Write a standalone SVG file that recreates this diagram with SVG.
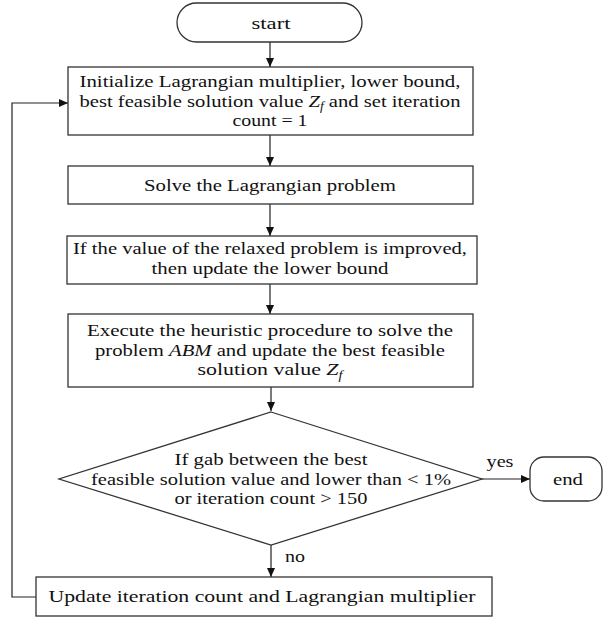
<svg xmlns="http://www.w3.org/2000/svg" width="604" height="618" viewBox="0 0 604 618">
<defs>
<marker id="ah" markerWidth="10" markerHeight="8" refX="9" refY="4" orient="auto" markerUnits="userSpaceOnUse">
<path d="M0,0 L9,4 L0,8 Z" fill="#111"/>
</marker>
<style>
.shape{fill:#fff;stroke:#333;stroke-width:1.3}
.lbl{font-family:"Liberation Serif","Times New Roman",serif;font-size:17.5px;fill:#111;text-anchor:middle}
.it{font-style:italic}
.con{fill:none;stroke:#222;stroke-width:1.2}
</style>
</defs>
<rect width="604" height="618" fill="#fff"/>
<g id="connectors">
<line class="con" x1="270" y1="42" x2="270" y2="67" marker-end="url(#ah)"/>
<line class="con" x1="270" y1="135" x2="270" y2="166" marker-end="url(#ah)"/>
<line class="con" x1="270" y1="204" x2="270" y2="236" marker-end="url(#ah)"/>
<line class="con" x1="270" y1="284" x2="270" y2="314" marker-end="url(#ah)"/>
<line class="con" x1="271" y1="387" x2="271" y2="411" marker-end="url(#ah)"/>
<line class="con" x1="482" y1="479" x2="530" y2="479" marker-end="url(#ah)"/>
<line class="con" x1="271" y1="545" x2="271" y2="577" marker-end="url(#ah)"/>
<polyline class="con" points="36,597 12,597 12,103 68,103" marker-end="url(#ah)"/>
<text class="lbl" x="500" y="467" textLength="27" lengthAdjust="spacingAndGlyphs">yes</text>
<text class="lbl" x="295" y="562" textLength="20" lengthAdjust="spacingAndGlyphs">no</text>
</g>
<g id="start">
<rect class="shape" x="177" y="3" width="185" height="39" rx="19.5"/>
<text class="lbl" x="271" y="29" textLength="39" lengthAdjust="spacingAndGlyphs">start</text>
</g>
<g id="init">
<rect class="shape" x="68" y="67" width="405" height="68"/>
<text class="lbl" x="270" y="87" textLength="381" lengthAdjust="spacingAndGlyphs">Initialize Lagrangian multiplier, lower bound,</text>
<text class="lbl" x="270" y="106.5" textLength="381" lengthAdjust="spacingAndGlyphs">best feasible solution value <tspan class="it">Z</tspan><tspan class="it" font-size="11.5" dy="3.5">f</tspan><tspan dy="-3.5"> and set iteration</tspan></text>
<text class="lbl" x="270" y="126" textLength="75" lengthAdjust="spacingAndGlyphs">count = 1</text>
</g>
<g id="solve">
<rect class="shape" x="68" y="166" width="405" height="38"/>
<text class="lbl" x="270" y="191" textLength="252" lengthAdjust="spacingAndGlyphs">Solve the Lagrangian problem</text>
</g>
<g id="update-lb">
<rect class="shape" x="67" y="236" width="410" height="48"/>
<text class="lbl" x="270" y="254" textLength="394" lengthAdjust="spacingAndGlyphs">If the value of the relaxed problem is improved,</text>
<text class="lbl" x="270" y="273.5" textLength="237" lengthAdjust="spacingAndGlyphs">then update the lower bound</text>
</g>
<g id="heuristic">
<rect class="shape" x="68" y="314" width="405" height="73"/>
<text class="lbl" x="270" y="336" textLength="366" lengthAdjust="spacingAndGlyphs">Execute the heuristic procedure to solve the</text>
<text class="lbl" x="270" y="355.5" textLength="350" lengthAdjust="spacingAndGlyphs">problem <tspan class="it">ABM</tspan> and update the best feasible</text>
<text class="lbl" x="270" y="375" textLength="145" lengthAdjust="spacingAndGlyphs">solution value <tspan class="it">Z</tspan><tspan class="it" font-size="11.5" dy="3.5">f</tspan></text>
</g>
<g id="decision">
<polygon class="shape" points="271,412 482,479 271,545 59,479"/>
<text class="lbl" x="271" y="465" textLength="193" lengthAdjust="spacingAndGlyphs">If gab between the best</text>
<text class="lbl" x="271" y="484.5" textLength="360" lengthAdjust="spacingAndGlyphs">feasible solution value and lower than &lt; 1%</text>
<text class="lbl" x="271" y="504" textLength="193" lengthAdjust="spacingAndGlyphs">or iteration count &gt; 150</text>
</g>
<g id="end">
<rect class="shape" x="530" y="457" width="72" height="44" rx="14"/>
<text class="lbl" x="568" y="485" textLength="30" lengthAdjust="spacingAndGlyphs">end</text>
</g>
<g id="update-iter">
<rect class="shape" x="36" y="577" width="456" height="39"/>
<text class="lbl" x="262" y="602" textLength="427" lengthAdjust="spacingAndGlyphs">Update iteration count and Lagrangian multiplier</text>
</g>
</svg>
